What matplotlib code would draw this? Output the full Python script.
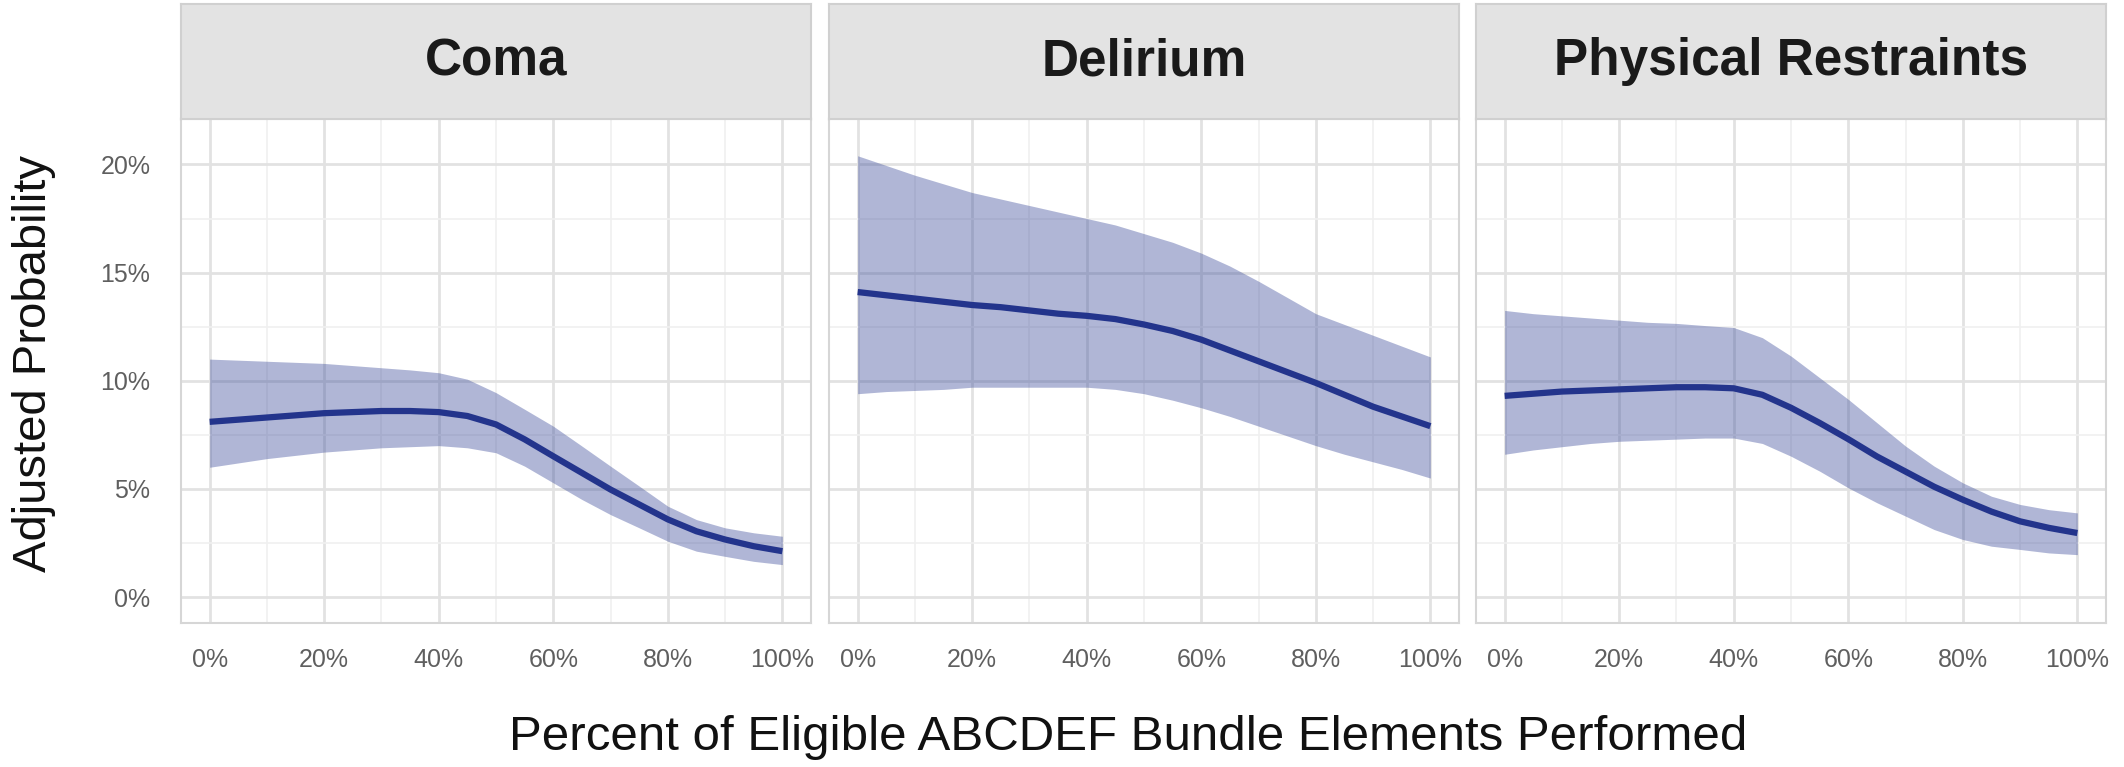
import matplotlib
matplotlib.use("Agg")
import matplotlib.pyplot as plt
from matplotlib.ticker import FuncFormatter, MultipleLocator

plt.rcParams["font.family"] = ["Liberation Sans", "DejaVu Sans"]

# percent of eligible bundle elements performed
pct_done = [0, 5, 10, 15, 20, 25, 30, 35, 40, 45, 50,
            55, 60, 65, 70, 75, 80, 85, 90, 95, 100]

outcomes = ["Coma", "Delirium", "Physical Restraints"]

# adjusted probability (%) with lower / upper confidence limits
coma_est = [8.1, 8.2, 8.3, 8.4, 8.5, 8.55, 8.6, 8.6, 8.55, 8.37, 7.98,
            7.29, 6.51, 5.74, 4.97, 4.28, 3.59, 3.04, 2.66, 2.35, 2.12]
coma_lo = [6.0, 6.2, 6.4, 6.55, 6.7, 6.8, 6.9, 6.95, 7.0, 6.9, 6.67,
           6.05, 5.28, 4.51, 3.81, 3.2, 2.58, 2.12, 1.88, 1.65, 1.5]
coma_hi = [11.0, 10.95, 10.9, 10.85, 10.8, 10.7, 10.6, 10.5, 10.37, 10.07, 9.45,
           8.68, 7.9, 6.98, 6.05, 5.13, 4.2, 3.58, 3.2, 2.97, 2.81]

delirium_est = [14.1, 13.95, 13.8, 13.65, 13.5, 13.4, 13.25, 13.1, 13.0, 12.85, 12.6,
                12.3, 11.9, 11.4, 10.9, 10.4, 9.9, 9.35, 8.8, 8.35, 7.9]
delirium_lo = [9.4, 9.5, 9.55, 9.6, 9.7, 9.7, 9.7, 9.7, 9.7, 9.6, 9.4,
               9.1, 8.75, 8.35, 7.9, 7.45, 7.0, 6.6, 6.25, 5.9, 5.5]
delirium_hi = [20.4, 19.95, 19.5, 19.1, 18.7, 18.4, 18.1, 17.8, 17.5, 17.2, 16.8,
               16.4, 15.9, 15.3, 14.6, 13.85, 13.1, 12.6, 12.1, 11.6, 11.1]

restraint_est = [9.3, 9.4, 9.5, 9.55, 9.6, 9.65, 9.7, 9.7, 9.65, 9.35, 8.75,
                 8.05, 7.3, 6.5, 5.8, 5.1, 4.5, 3.95, 3.5, 3.2, 2.96]
restraint_lo = [6.6, 6.8, 6.95, 7.1, 7.2, 7.25, 7.3, 7.35, 7.35, 7.1, 6.51,
                5.82, 5.05, 4.36, 3.74, 3.12, 2.66, 2.35, 2.2, 2.04, 1.96]
restraint_hi = [13.25, 13.1, 13.0, 12.9, 12.8, 12.7, 12.65, 12.55, 12.46, 11.99, 11.14,
                10.14, 9.14, 8.06, 6.98, 6.05, 5.28, 4.66, 4.28, 4.04, 3.89]

estimates = [coma_est, delirium_est, restraint_est]
lowers = [coma_lo, delirium_lo, restraint_lo]
uppers = [coma_hi, delirium_hi, restraint_hi]

line_col = "#23348c"
band_col = "#3a4a9a"
grid_major = "#e2e2e2"
grid_minor = "#f0f0f0"
strip_bg = "#e3e3e3"
tick_col = "#5f5f5f"

W, H = 2124, 767
fig = plt.figure(figsize=(W / 100, H / 100), dpi=100)

lefts = [181, 829, 1476]
panel_w = 630
panel_top, panel_bot = 119, 623
strip_top = 4

pct = FuncFormatter(lambda v, _: f"{v:.0f}%")

for i, name in enumerate(outcomes):
    x0 = lefts[i] / W
    ax = fig.add_axes([x0, 1 - panel_bot / H, panel_w / W, (panel_bot - panel_top) / H])
    ax.fill_between(pct_done, lowers[i], uppers[i], color=band_col, alpha=0.4,
                    linewidth=0, zorder=2)
    ax.plot(pct_done, estimates[i], color=line_col, lw=4.5, zorder=3,
            solid_capstyle="butt", solid_joinstyle="round")

    ax.set_xlim(-5, 105)
    ax.set_ylim(-1.2, 22.1)
    ax.xaxis.set_major_locator(MultipleLocator(20))
    ax.xaxis.set_minor_locator(MultipleLocator(10))
    ax.yaxis.set_major_locator(MultipleLocator(5))
    ax.yaxis.set_minor_locator(MultipleLocator(2.5))
    ax.xaxis.set_major_formatter(pct)
    ax.yaxis.set_major_formatter(pct)
    ax.grid(which="major", color=grid_major, lw=2.0, zorder=0)
    ax.grid(which="minor", color=grid_minor, lw=1.2, zorder=0)
    ax.set_axisbelow(True)
    ax.tick_params(which="both", length=0)
    ax.tick_params(axis="x", labelsize=18, labelcolor=tick_col, pad=18)
    ax.tick_params(axis="y", labelsize=18, labelcolor=tick_col, pad=22)
    if i > 0:
        ax.tick_params(axis="y", labelleft=False)
    for s in ax.spines.values():
        s.set_color("#d6d6d6")
        s.set_linewidth(1.5)

    # facet strip
    st = fig.add_axes([x0, 1 - panel_top / H, panel_w / W, (panel_top - strip_top) / H])
    st.set_facecolor(strip_bg)
    st.set_xticks([])
    st.set_yticks([])
    for s in st.spines.values():
        s.set_color("#d0d0d0")
        s.set_linewidth(1.5)
    st.text(0.5, 0.5, name, ha="center", va="center", fontsize=37,
            fontweight="bold", color="#1a1a1a", transform=st.transAxes)

fig.text(1128 / W, 1 - 738 / H,
         "Percent of Eligible ABCDEF Bundle Elements Performed",
         ha="center", va="center", fontsize=35.5, color="#111111")
fig.text(34 / W, 1 - 363 / H, "Adjusted Probability", rotation=90,
         ha="center", va="center", fontsize=34, color="#111111")

fig.savefig("out.png", dpi=100, facecolor="white")
